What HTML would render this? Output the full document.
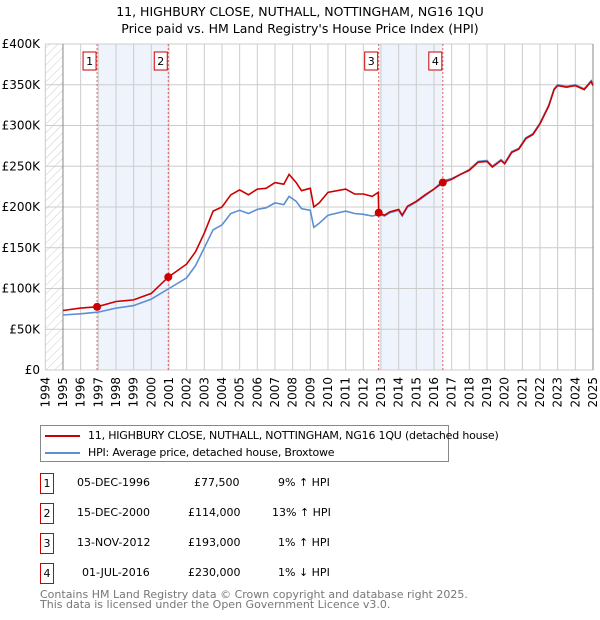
<!DOCTYPE html>
<html><head><meta charset="utf-8"><style>
body{margin:0;background:#fff;font-family:"Liberation Sans","DejaVu Sans",sans-serif;}
#wrap{position:relative;width:600px;height:620px;overflow:hidden;}
svg text{font-family:"DejaVu Sans","Liberation Sans",sans-serif;}
.row{position:absolute;left:0;width:600px;height:20px;font-size:11px;font-family:"DejaVu Sans","Liberation Sans",sans-serif;white-space:nowrap;}
.row span{position:absolute;top:3px;}
.num{position:absolute;left:40px;top:0;width:12px;height:19px;border:1px solid #c00;text-align:center;line-height:19px;}
</style></head><body><div id="wrap">
<svg id="chart" width="600" height="420">
<defs><pattern id="hatch" width="6" height="6" patternUnits="userSpaceOnUse" patternTransform="rotate(45)"><line x1="0" y1="0" x2="0" y2="6" stroke="#ccc" stroke-width="1"/></pattern></defs>
<text x="300" y="16" text-anchor="middle" font-size="12.5">11, HIGHBURY CLOSE, NUTHALL, NOTTINGHAM, NG16 1QU</text>
<text x="300" y="33" text-anchor="middle" font-size="12.5">Price paid vs. HM Land Registry's House Price Index (HPI)</text>
<g id="g"></g>
</svg>
<div style="position:absolute;left:40px;top:425px;width:407px;height:35px;border:1px solid #888;font-family:'DejaVu Sans','Liberation Sans',sans-serif;font-size:11px;white-space:nowrap;letter-spacing:-0.2px;">
<div style="position:absolute;left:4px;top:3px;"><span style="display:inline-block;width:35px;height:2px;background:#c00;vertical-align:middle;margin-right:8px"></span>11, HIGHBURY CLOSE, NUTHALL, NOTTINGHAM, NG16 1QU (detached house)</div>
<div style="position:absolute;left:4px;top:20px;"><span style="display:inline-block;width:35px;height:2px;background:#5b8fd4;vertical-align:middle;margin-right:8px"></span>HPI: Average price, detached house, Broxtowe</div>
</div>
<div class="row" style="top:473px"><div class="num">1</div><span style="left:77px">05-DEC-1996</span><span style="left:194px">£77,500</span><span style="left:278px">9% ↑ HPI</span></div>
<div class="row" style="top:503px"><div class="num">2</div><span style="left:77px">15-DEC-2000</span><span style="left:188px">£114,000</span><span style="left:272px">13% ↑ HPI</span></div>
<div class="row" style="top:533px"><div class="num">3</div><span style="left:77px">13-NOV-2012</span><span style="left:188px">£193,000</span><span style="left:278px">1% ↑ HPI</span></div>
<div class="row" style="top:563px"><div class="num">4</div><span style="left:82px">01-JUL-2016</span><span style="left:188px">£230,000</span><span style="left:278px">1% ↓ HPI</span></div>
<div style="position:absolute;left:40px;top:590px;font-size:11px;color:#777;line-height:10px;white-space:nowrap;font-family:'DejaVu Sans','Liberation Sans',sans-serif;">Contains HM Land Registry data © Crown copyright and database right 2025.<br>This data is licensed under the Open Government Licence v3.0.</div>
</div>
<script>
const hpiYears=[1995,1996,1997,1998,1999,2000,2001,2002,2002.5,2003,2003.5,2004,2004.5,2005,2005.5,2006,2006.5,2007,2007.5,2007.8,2008.2,2008.5,2009,2009.2,2009.5,2010,2011,2011.5,2012,2012.5,2012.9,2013.2,2013.5,2014,2014.2,2014.5,2015,2015.5,2016,2016.5,2017,2017.5,2018,2018.5,2019,2019.3,2019.8,2020,2020.4,2020.8,2021.2,2021.6,2022,2022.5,2022.8,2023,2023.5,2024,2024.5,2024.9,2025];
const hpiValues=[67.5,69,71,76,79,87,100,113,128,150,172,178,192,196,192,197,199,205,203,213,207,198,196,175,180,190,195,192,191,189,191,189,193,196,189,200,206,214,222,232,235,240,246,256,257,250,258,254,268,272,285,290,303,325,345,350,348,350,345,355,350];
const propYears=[1995,1996,1996.93,1998,1999,2000,2000.96,2002,2002.5,2003,2003.5,2004,2004.5,2005,2005.5,2006,2006.5,2007,2007.5,2007.8,2008.2,2008.5,2009,2009.2,2009.5,2010,2011,2011.5,2012,2012.5,2012.85,2012.87,2013.2,2013.5,2014,2014.2,2014.5,2015,2015.5,2016,2016.5,2017,2017.5,2018,2018.5,2019,2019.3,2019.8,2020,2020.4,2020.8,2021.2,2021.6,2022,2022.5,2022.8,2023,2023.5,2024,2024.5,2024.9,2025];
const propValues=[73,76,77.5,84,86,94,114,130,145,168,195,200,215,221,215,222,223,230,228,240,230,220,223,200,205,218,222,216,216,213,218,193,190,194,197,190,201,207,215,222,230,234,240,245,255,256,249,257,253,267,271,284,289,302,324,344,349,347,349,344,354,349];
const saleYears=[1996.93,2000.96,2012.87,2016.5];
const saleValues=[77.5,114,193,230];
const saleLabels=["1","2","3","4"];
const yTicks=[0,50,100,150,200,250,300,350,400];
const yTickLabels=["£0","£50K","£100K","£150K","£200K","£250K","£300K","£350K","£400K"];
const xTicks=[1994,1995,1996,1997,1998,1999,2000,2001,2002,2003,2004,2005,2006,2007,2008,2009,2010,2011,2012,2013,2014,2015,2016,2017,2018,2019,2020,2021,2022,2023,2024,2025];
const shadeSpans=[[0,1],[2,3]];

const X0=45.3,X1=593,Y0=370,Y1=44;
const xs=y=>X0+(y-1994)*(X1-X0)/31;
const ys=v=>Y0-(v/400)*(Y0-Y1);
const g=document.getElementById('g');
const NS='http://www.w3.org/2000/svg';
function mk(t,a,p){const e=document.createElementNS(NS,t);for(const k in a)e.setAttribute(k,a[k]);(p||g).appendChild(e);return e;}

shadeSpans.forEach((s,i)=>{
 const r=mk('rect',{x:xs(saleYears[s[0]]),y:Y1,width:xs(saleYears[s[1]])-xs(saleYears[s[0]]),height:Y0-Y1,fill:'#eef3fc'});
 
 
});
const h=mk('rect',{x:X0,y:Y1,width:xs(1995)-X0,height:Y0-Y1,fill:'url(#hatch)'});


xTicks.forEach(t=>{
 const l=mk('line',{x1:xs(t),x2:xs(t),y1:Y1,y2:Y0,stroke:'#ccc','stroke-width':1});
 
 
 const tx=mk('text',{x:0,y:0,'font-size':12,'text-anchor':'end',transform:`translate(${xs(t)+4},${Y0+7}) rotate(-90)`});
 tx.textContent=t;
 
 
});
yTicks.forEach((t,i)=>{
 const l=mk('line',{x1:X0,x2:X1,y1:ys(t),y2:ys(t),stroke:'#ccc','stroke-width':1});
 
 
 const tx=mk('text',{x:40,y:ys(t)+4,'font-size':12,'text-anchor':'end'});
 tx.textContent=yTickLabels[i];
 
 
});
const ax=mk('line',{x1:xs(1995),x2:xs(1995),y1:Y1,y2:Y0,stroke:'#888'});


const ax2=mk('line',{x1:X1,x2:X1,y1:Y1,y2:Y0,stroke:'#888'});


saleYears.forEach((s,i)=>{
 const l=mk('line',{x1:xs(s),x2:xs(s),y1:Y1,y2:Y0,stroke:'#e06060','stroke-dasharray':'2,2'});
 
 
 const b=mk('rect',{x:xs(s)-14,y:52,width:13,height:18,fill:'#fff',stroke:'#c00'});
 
 
 const t=mk('text',{x:xs(s)-7.5,y:65,'font-size':11,'text-anchor':'middle'});
 t.textContent=saleLabels[i];
 
 
});
const pl=(yrs,vals)=>yrs.map((y,i)=>xs(y).toFixed(1)+','+ys(vals[i]).toFixed(1)).join(' ');
const hp=mk('polyline',{points:pl(hpiYears,hpiValues),fill:'none',stroke:'#5b8fd4','stroke-width':1.6});


const pp=mk('polyline',{points:pl(propYears,propValues),fill:'none',stroke:'#c00','stroke-width':1.6});


saleYears.forEach((s,i)=>{
 const d=mk('circle',{cx:xs(s),cy:ys(saleValues[i]),r:4,fill:'#c00'});
 
 
});
</script>
</body></html>
